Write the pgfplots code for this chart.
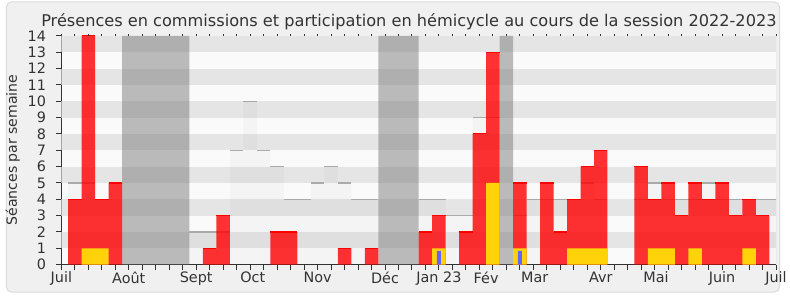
\documentclass[border=0pt]{standalone}
\usepackage{pgfplots}
\pgfplotsset{compat=1.18}
\usepackage{fontspec}
\setmainfont{DejaVu Sans}
\definecolor{bandA}{HTML}{FAFAFA}
\definecolor{bandB}{HTML}{E5E5E5}
\definecolor{panel}{HTML}{F0F0F0}
\definecolor{panelborder}{HTML}{DADADA}
\definecolor{gold}{HTML}{FFD20A}
\definecolor{bleu}{HTML}{6464FF}
\definecolor{medline}{HTML}{AAAAAA}
\definecolor{vac}{HTML}{767676}
\definecolor{axisc}{HTML}{333333}
\definecolor{textc}{HTML}{333333}
\pgfplotstableread{
x y
1 4
2 14
3 4
4 5
11 1
12 3
16 2
17 2
21 1
23 1
27 2
28 3
30 2
31 8
32 13
34 5
36 5
37 2
38 4
39 6
40 7
43 6
44 4
45 5
46 3
47 5
48 4
49 5
50 3
51 4
52 3
}\redtab
\pgfplotstableread{
x y
2 1
3 1
28 1
32 5
34 1
38 1
39 1
40 1
44 1
45 1
47 1
51 1
}\goldtab
\pgfplotstableread{
x y
28 0.85
34 0.85
}\bluetab
\pgfplotstableread{
x y
5 14
6 14
7 14
8 14
9 14
24 14
25 14
26 14
33 14
}\vactab
\pgfplotstableread{
x y
1 5
2 5
3 4
4 5
10 2
11 2
12 2
13 7
14 10
15 7
16 6
17 4
18 4
19 5
20 6
21 5
22 4
23 4
27 4
28 4
29 3
30 3
31 9
32 9
34 3
35 4
36 4
37 4
38 4
39 5
40 4
43 4
44 5
45 4
46 4
47 4
48 5
49 4
50 4
51 4
52 4
53 4
}\medtab
\begin{document}
\begin{tikzpicture}[x=1bp,y=1bp]
\fill[white] (0,0) rectangle (790,300);
\draw[panelborder, fill=panel, rounded corners=5bp, line width=1bp] (6.5,6.5) rectangle (783.5,298);
\begin{axis}[
  at={(61.7bp,34bp)}, anchor=south west,
  scale only axis, width=718.3bp, height=230bp,
  xmin=0, xmax=53, ymin=0, ymax=14,
  axis lines*=left,
  axis line style={axisc, line width=1bp},
  axis background/.style={fill=bandA},
  tick align=outside,
  major tick length=5bp,
  tick style={axisc, line width=1bp},
  xtick={0,...,53}, xticklabels={},
  extra x ticks={0,5,10,14.2,19,24,28,31.5,35.1,40,44.1,49,53},
  extra x tick labels={Juil,Août,Sept,Oct,Nov,Déc,Jan 23,Fév,Mar,Avr,Mai,Juin,Juil},
  extra x tick style={major tick length=0pt, grid=none},
  ytick={0,...,14},
  /pgf/number format/assume math mode=true,
  tick label style={font=\fontsize{14.5}{14.5}\selectfont, text=textc},
  yticklabel style={xshift=-7bp},
  xticklabel style={yshift=-3.5bp},
]
\fill[bandB] (axis cs:0,1) rectangle (axis cs:53,2);
\fill[bandB] (axis cs:0,3) rectangle (axis cs:53,4);
\fill[bandB] (axis cs:0,5) rectangle (axis cs:53,6);
\fill[bandB] (axis cs:0,7) rectangle (axis cs:53,8);
\fill[bandB] (axis cs:0,9) rectangle (axis cs:53,10);
\fill[bandB] (axis cs:0,11) rectangle (axis cs:53,12);
\fill[bandB] (axis cs:0,13) rectangle (axis cs:53,14);
\addplot[ybar, bar width=1, bar shift=0pt, fill=vac, fill opacity=0.48, draw=none] table {\vactab};
\addplot[ybar, bar width=1, bar shift=0pt, fill=black, fill opacity=0.025, draw=none] table {\medtab};
\addplot[draw=none, mark=none, error bars/.cd, x dir=both, x fixed=0.5, error mark=none,
  error bar style={medline, line width=1.3bp}] table {\medtab};
\addplot[ybar, bar width=1, bar shift=0pt, fill=red, fill opacity=0.8, draw=none] table {\redtab};
\addplot[draw=none, mark=none, error bars/.cd, x dir=both, x fixed=0.5, error mark=none,
  error bar style={red, line width=1.2bp}] table {\redtab};
\addplot[ybar, bar width=1, bar shift=0pt, fill=gold, draw=none] table {\goldtab};
\addplot[ybar, bar width=0.3, bar shift=0pt, fill=bleu, draw=none] table {\bluetab};
\draw[black!20, line width=1bp] (axis cs:53,0) -- (axis cs:53,14);
\end{axis}
\begin{axis}[
  at={(61.7bp,34bp)}, anchor=south west,
  scale only axis, width=718.3bp, height=230bp,
  xmin=0, xmax=53, ymin=0, ymax=14,
  axis x line*=top, axis y line=none,
  axis line style={draw=none},
  tick align=outside, major tick length=1.5bp,
  tick style={axisc, line width=1bp},
  xtick={0,...,53}, xticklabels={},
]
\addplot[draw=none] coordinates {(0,0)};
\end{axis}
\node[anchor=base, text=textc, font=\fontsize{16.3}{16.3}\selectfont] at (411,273.3) {Présences en commissions et participation en hémicycle au cours de la session 2022-2023};
\node[rotate=90, anchor=base, text=textc, font=\fontsize{14.2}{14.2}\selectfont] at (17,149.2) {Séances par semaine};
\end{tikzpicture}
\end{document}
